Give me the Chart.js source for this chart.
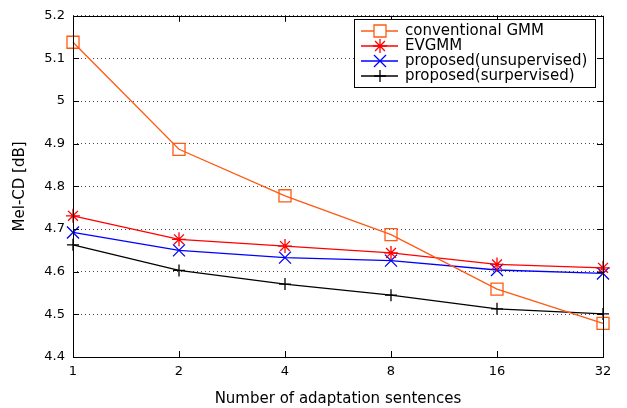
<!DOCTYPE html>
<html>
<head>
<meta charset="utf-8">
<script src="https://cdn.jsdelivr.net/npm/chart.js@4/dist/chart.umd.min.js"></script>
<style>
  html, body { margin: 0; padding: 0; background: #fff; }
  #wrap { width: 627px; height: 408px; }
</style>
</head>
<body>
<div id="wrap"><canvas id="c" width="627" height="408"></canvas></div>
<script>
// Number of adaptation sentences (log2 spaced)
const sentences = ['1', '2', '4', '8', '16', '32'];

// Mel-CD [dB] per method
const conventionalGMM = [5.138, 4.887, 4.778, 4.687, 4.559, 4.479];
const evgmm           = [4.731, 4.676, 4.660, 4.644, 4.617, 4.609];
const propUnsup       = [4.692, 4.650, 4.633, 4.626, 4.604, 4.596];
const propSup         = [4.663, 4.603, 4.571, 4.545, 4.513, 4.501];

const yTicks = [4.4, 4.5, 4.6, 4.7, 4.8, 4.9, 5.0, 5.1, 5.2];

const FONT = 'DejaVu Sans';
const ORANGE = '#ff5a14';
const RED    = '#ff0000';
const BLUE   = '#0000ff';
const BLACK  = '#000000';

// frame + inward ticks around the plot
const framePlugin = {
  id: 'frame',
  afterDatasetsDraw(chart) {
    const { ctx, chartArea: a, scales } = chart;
    ctx.save();
    ctx.strokeStyle = '#000';
    ctx.lineWidth = 1;
    ctx.strokeRect(Math.round(a.left) + 0.5, Math.round(a.top) + 0.5,
                   Math.round(a.right - a.left), Math.round(a.bottom - a.top));
    ctx.beginPath();
    sentences.forEach((s, i) => {
      const x = Math.round(scales.x.getPixelForValue(i)) + 0.5;
      ctx.moveTo(x, a.bottom); ctx.lineTo(x, a.bottom - 6);
      ctx.moveTo(x, a.top);    ctx.lineTo(x, a.top + 6);
    });
    yTicks.forEach(v => {
      const y = Math.round(scales.y.getPixelForValue(v)) + 0.5;
      ctx.moveTo(a.left, y);  ctx.lineTo(a.left + 6, y);
      ctx.moveTo(a.right, y); ctx.lineTo(a.right - 6, y);
    });
    ctx.stroke();
    ctx.restore();
  }
};

// matlab-style legend: line sample with marker in the middle
const legendPlugin = {
  id: 'boxLegend',
  afterDraw(chart) {
    const { ctx } = chart;
    const x0 = 354, y0 = 19, w = 241, h = 68;
    ctx.save();
    ctx.fillStyle = '#fff';
    ctx.fillRect(x0, y0, w, h);
    ctx.strokeStyle = '#000';
    ctx.lineWidth = 1;
    ctx.strokeRect(x0 + 0.5, y0 + 0.5, w, h);
    ctx.font = '15px "' + FONT + '"';
    ctx.textBaseline = 'middle';
    chart.data.datasets.forEach((ds, i) => {
      const yy = y0 + 12 + i * 15;
      ctx.strokeStyle = ds.borderColor;
      ctx.lineWidth = 1.3;
      ctx.beginPath();
      ctx.moveTo(x0 + 7, yy); ctx.lineTo(x0 + 44, yy);
      ctx.stroke();
      Chart.helpers.drawPoint(ctx, {
        pointStyle: ds.pointStyle, radius: ds.pointRadius,
        borderWidth: 1.3, rotation: 0
      }, x0 + 26, yy);
      ctx.fillStyle = '#000';
      ctx.fillText(ds.label, x0 + 51, yy);
    });
    ctx.restore();
  }
};

function series(label, data, color, style, r) {
  return {
    label, data,
    borderColor: color,
    backgroundColor: 'rgba(0,0,0,0)',
    pointBorderColor: color,
    pointBackgroundColor: 'rgba(0,0,0,0)',
    borderWidth: 1.3,
    pointStyle: style,
    pointRadius: r,
    pointBorderWidth: 1.3,
    tension: 0,
    fill: false,
  };
}

new Chart(document.getElementById('c'), {
  type: 'line',
  data: {
    labels: sentences,
    datasets: [
      series('conventional GMM', conventionalGMM, ORANGE, 'rect', 8.5),
      series('EVGMM', evgmm, RED, 'star', 7),
      series('proposed(unsupervised)', propUnsup, BLUE, 'crossRot', 8.5),
      series('proposed(surpervised)', propSup, BLACK, 'cross', 6),
    ],
  },
  options: {
    responsive: false,
    animation: false,
    layout: { padding: { top: 11, right: 24, left: 0, bottom: 0 } },
    plugins: {
      legend: { display: false },
      tooltip: { enabled: false },
    },
    scales: {
      x: {
        type: 'category',
        offset: false,
        grid: { display: false, drawTicks: false },
        border: { display: false },
        ticks: { color: '#000', font: { family: FONT, size: 13 }, padding: 7, maxRotation: 0 },
        title: {
          display: true, text: 'Number of adaptation sentences',
          color: '#000', font: { family: FONT, size: 15 }, padding: { top: 4, bottom: 0 }
        },
        afterFit: s => { s.height = 408 - 357; },
      },
      y: {
        min: 4.4, max: 5.2,
        afterBuildTicks: s => { s.ticks = yTicks.map(v => ({ value: v })); },
        grid: {
          color: '#444', lineWidth: 1, drawTicks: false,
        },
        border: { display: false, dash: [1, 3] },
        ticks: {
          color: '#000', font: { family: FONT, size: 13 }, padding: 8,
          callback: v => String(+v.toFixed(1)),
        },
        title: {
          display: true, text: 'Mel-CD [dB]',
          color: '#000', font: { family: FONT, size: 15 }, padding: { top: 11.5, bottom: 0 }
        },
        afterFit: s => { s.width = 73; },
      },
    },
  },
  plugins: [framePlugin, legendPlugin],
});
</script>
</body>
</html>
